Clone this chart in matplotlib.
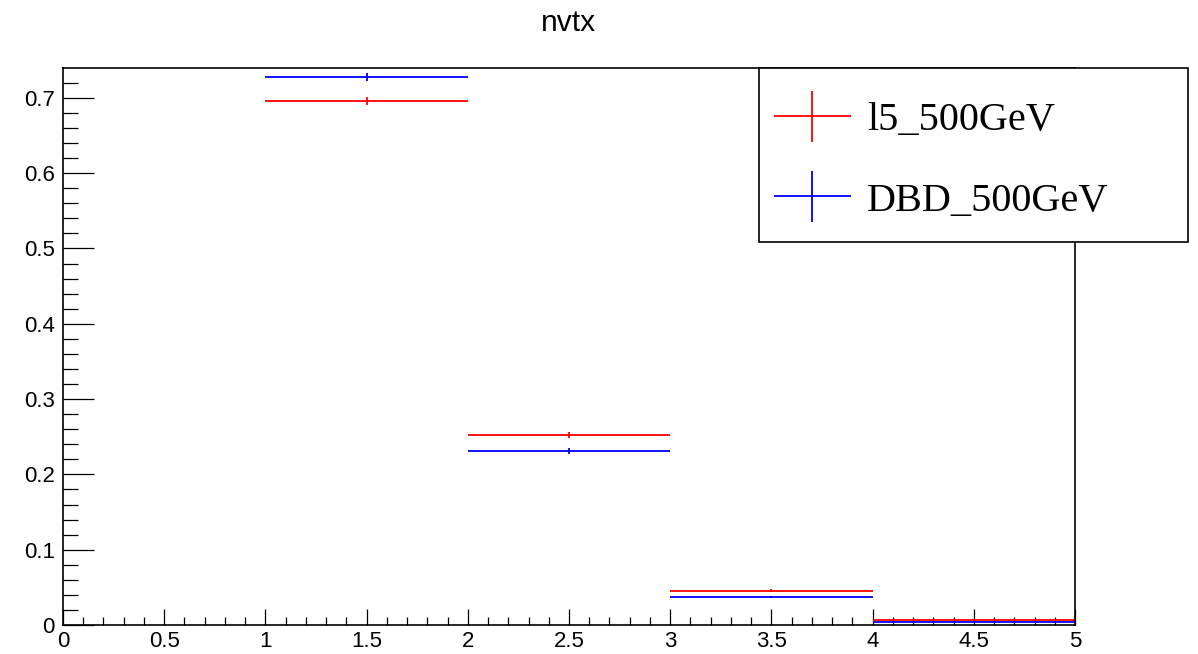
import numpy as np
import matplotlib.pyplot as plt
from matplotlib.patches import Rectangle
from matplotlib.container import ErrorbarContainer
from matplotlib.legend_handler import HandlerErrorbar
from matplotlib.ticker import MultipleLocator

# === data: normalised nvtx histograms ===
bin_centers = [1.5, 2.5, 3.5, 4.5]
bin_halfwidth = [0.5, 0.5, 0.5, 0.5]
l5_vals = [0.696, 0.2523, 0.0456, 0.0066]
l5_errs = [0.0055, 0.004, 0.0018, 0.0006]
dbd_vals = [0.7278, 0.2311, 0.0372, 0.0040]
dbd_errs = [0.0055, 0.004, 0.0016, 0.0005]
labels = ["l5_500GeV", "DBD_500GeV"]

plt.rcParams['font.family'] = ['Liberation Sans', 'DejaVu Sans']

W, H = 1198, 654
fig = plt.figure(figsize=(W / 100, H / 100), dpi=100)
# axes box in pixels: left 63, right 1075, top 68, bottom 625
ax = fig.add_axes([63 / W, 1 - 625 / H, (1075 - 63) / W, (625 - 68) / H])

e1 = ax.errorbar(bin_centers, l5_vals, xerr=bin_halfwidth, yerr=l5_errs,
                 fmt='none', ecolor='#ff0000', elinewidth=1.3, label=labels[0])
e2 = ax.errorbar(bin_centers, dbd_vals, xerr=bin_halfwidth, yerr=dbd_errs,
                 fmt='none', ecolor='#0000ff', elinewidth=1.3, label=labels[1])

ax.set_xlim(0, 5)
ax.set_ylim(0, 0.7397)
ax.xaxis.set_major_locator(MultipleLocator(0.5))
ax.xaxis.set_minor_locator(MultipleLocator(0.1))
ax.yaxis.set_major_locator(MultipleLocator(0.1))
ax.yaxis.set_minor_locator(MultipleLocator(0.02))
ax.xaxis.set_major_formatter(plt.FuncFormatter(lambda v, p: f"{v:g}"))
ax.yaxis.set_major_formatter(plt.FuncFormatter(lambda v, p: f"{v:g}"))

ax.tick_params(axis='both', which='both', direction='in', width=0.9, labelsize=16)
ax.tick_params(axis='y', which='major', length=22, pad=6)
ax.tick_params(axis='y', which='minor', length=11)
ax.tick_params(axis='x', which='major', length=11.5, pad=4)
ax.tick_params(axis='x', which='minor', length=5.5)
for s in ax.spines.values():
    s.set_linewidth(1.2)

fig.text(569 / W, 1 - 23 / H, "nvtx", ha='center', va='center', fontsize=21.5)

# legend box (ROOT-style TLegend)
x0, x1 = 759 / W, 1188 / W
y0, y1 = 1 - 242 / H, 1 - 68 / H
fig.add_artist(Rectangle((x0, y0), x1 - x0, y1 - y0, transform=fig.transFigure,
                         facecolor='white', edgecolor='black', linewidth=1.2, zorder=5))
leg = fig.legend(handles=[e1, e2], labels=labels, loc='upper left',
                 bbox_to_anchor=(x0 - 1 / W, y1 - 18 / H), frameon=False,
                 prop={'family': 'Liberation Serif', 'size': 29},
                 handlelength=1.9, handletextpad=0.4, labelspacing=1.07,
                 borderaxespad=0,
                 handler_map={ErrorbarContainer: HandlerErrorbar(xerr_size=0.95, yerr_size=0.63)})
leg.set_zorder(6)

fig.savefig("out.png", dpi=100)
